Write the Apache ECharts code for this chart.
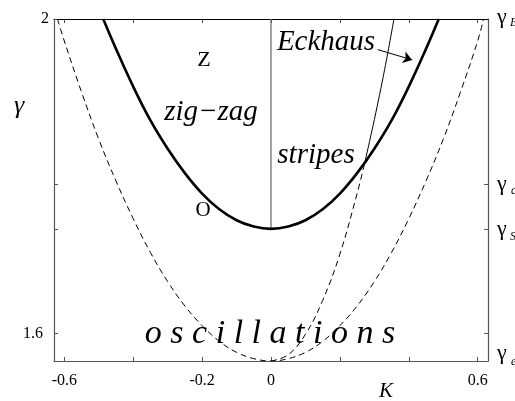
<!DOCTYPE html>
<html>
<head>
<meta charset="utf-8">
<script src="https://cdn.jsdelivr.net/npm/echarts@6/dist/echarts.min.js"></script>
<style>
html, body { margin: 0; padding: 0; background: #fff; }
#chart { width: 515px; height: 401px; }
</style>
</head>
<body>
<div id="chart"></div>
<script>
// Axis ticks and labels
const kTicks = [-0.6, -0.4, -0.2, 0, 0.2, 0.4, 0.6];
const kLabels = [-0.6, -0.2, 0, 0.6];
const gammaLeftTicks = [1.6, 1.733, 1.79, 2];
const gammaLeftLabels = [1.6, 2];
const gammaRightTicks = [1.6, 1.733, 1.79];

// Stripe stability boundary (thick curve)
const stripeK = [-0.487, -0.45, -0.4, -0.35, -0.3, -0.25, -0.2, -0.15, -0.1, -0.05, 0,
                 0.05, 0.1, 0.15, 0.2, 0.25, 0.3, 0.35, 0.4, 0.45, 0.487];
const stripeG = [2.0, 1.962, 1.914, 1.871, 1.835, 1.804, 1.778, 1.758, 1.744, 1.736, 1.733,
                 1.736, 1.744, 1.758, 1.778, 1.804, 1.835, 1.871, 1.914, 1.962, 2.0];

// Onset of oscillations (dashed outer curve)
const oscK = [-0.62, -0.6, -0.55, -0.5, -0.45, -0.4, -0.35, -0.3, -0.25, -0.2, -0.15, -0.1, -0.05, 0,
              0.05, 0.1, 0.15, 0.2, 0.25, 0.3, 0.35, 0.4, 0.45, 0.5, 0.55, 0.6, 0.617];
const oscG = [2.0, 1.972, 1.907, 1.847, 1.794, 1.746, 1.703, 1.666, 1.635, 1.610, 1.590, 1.576, 1.568, 1.565,
              1.568, 1.576, 1.590, 1.610, 1.635, 1.666, 1.703, 1.746, 1.794, 1.847, 1.907, 1.972, 2.0];

// Eckhaus boundary: dashed inside the oscillation region, solid above the stripe boundary
const eckLowK = [0, 0.05, 0.1, 0.15, 0.2, 0.25, 0.271];
const eckLowG = [1.565, 1.573, 1.599, 1.642, 1.701, 1.778, 1.815];
const eckHighK = [0.271, 0.3, 0.33, 0.357];
const eckHighG = [1.815, 1.872, 1.936, 2.0];

// Zig-zag / stripes separator at K = 0
const sepK = [0, 0];
const sepG = [1.733, 2.0];

// Arrow pointing from the "Eckhaus" label to the curve
const arrowFrom = [0.31, 1.961];
const arrowTo = [0.41, 1.948];

const pairs = (xs, ys) => xs.map((x, i) => [x, ys[i]]);

const SERIF = '"Liberation Serif", "Times New Roman", serif';
const axisGrey = '#555';

const chart = echarts.init(document.getElementById('chart'), null, { renderer: 'canvas' });

const lineBase = { type: 'line', showSymbol: false, symbol: 'none', silent: true, animation: false, smooth: 0.4 };

function txt(x, y, text, font, align) {
  return {
    type: 'text', x: x, y: y, silent: true,
    style: { text: text, font: font, fill: '#000', textAlign: align || 'center', textVerticalAlign: 'middle' }
  };
}

const option = {
  animation: false,
  backgroundColor: '#fff',
  grid: { left: 54, right: 27, top: 19, bottom: 40, containLabel: false },
  xAxis: [
    {
      type: 'value', min: -0.63, max: 0.63, position: 'bottom',
      axisLine: { onZero: false, lineStyle: { color: axisGrey, width: 1.2 } },
      axisTick: { inside: true, length: 4, customValues: kTicks, lineStyle: { color: axisGrey } },
      axisLabel: {
        customValues: kLabels, margin: 12, color: '#000', fontFamily: SERIF, fontSize: 16,
        formatter: v => (Math.abs(v) < 1e-9 ? '0' : String(v))
      },
      splitLine: { show: false }
    },
    {
      type: 'value', min: -0.63, max: 0.63, position: 'top',
      axisLine: { show: true, onZero: false, lineStyle: { color: '#000', width: 1.2 } },
      axisTick: { inside: true, length: 4, customValues: kTicks, lineStyle: { color: '#444' } },
      axisLabel: { show: false },
      splitLine: { show: false }
    }
  ],
  yAxis: [
    {
      type: 'value', min: 1.565, max: 2, position: 'left',
      axisLine: { show: true, onZero: false, lineStyle: { color: axisGrey, width: 1.2 } },
      axisTick: { show: true, inside: true, length: 4, customValues: gammaLeftTicks, lineStyle: { color: axisGrey } },
      axisLabel: {
        customValues: gammaLeftLabels, margin: 5, color: '#000', fontFamily: SERIF, fontSize: 16,
        formatter: v => (v === 2 ? '{a|2}' : '{b|' + v + '}'),
        rich: {
          a: { fontFamily: SERIF, fontSize: 16, color: '#000' },
          b: { fontFamily: SERIF, fontSize: 16, color: '#000', padding: [0, 6, 0, 0] }
        }
      },
      splitLine: { show: false }
    },
    {
      type: 'value', min: 1.565, max: 2, position: 'right',
      axisLine: { show: true, onZero: false, lineStyle: { color: axisGrey, width: 1.2 } },
      axisTick: { show: true, inside: true, length: 4, customValues: gammaRightTicks, lineStyle: { color: axisGrey } },
      axisLabel: { show: false },
      splitLine: { show: false }
    }
  ],
  series: [
    Object.assign({}, lineBase, {
      data: pairs(oscK, oscG),
      lineStyle: { color: '#000', width: 1, type: [6, 4] }
    }),
    Object.assign({}, lineBase, {
      data: pairs(eckLowK, eckLowG),
      lineStyle: { color: '#000', width: 1, type: [6, 4] }
    }),
    Object.assign({}, lineBase, {
      data: pairs(eckHighK, eckHighG),
      lineStyle: { color: '#000', width: 1 }
    }),
    Object.assign({}, lineBase, {
      data: pairs(sepK, sepG), smooth: false,
      lineStyle: { color: '#666', width: 1.2 }
    }),
    Object.assign({}, lineBase, {
      data: pairs(stripeK, stripeG),
      lineStyle: { color: '#000', width: 2.6 }
    }),
    {
      type: 'lines', coordinateSystem: 'cartesian2d', silent: true, animation: false,
      symbol: ['none', 'arrow'], symbolSize: 9,
      lineStyle: { color: '#000', width: 1, opacity: 1 },
      data: [{ coords: [arrowFrom, arrowTo] }]
    }
  ],
  graphic: [
    txt(19, 106, 'γ', 'italic 26px ' + SERIF),
    txt(204, 60, 'Z', '22px ' + SERIF),
    txt(211, 112, 'zig−zag', 'italic 29px ' + SERIF),
    txt(326, 42, 'Eckhaus', 'italic 29px ' + SERIF),
    txt(316, 155, 'stripes', 'italic 29px ' + SERIF),
    txt(203, 210, 'O', '21px ' + SERIF),
    txt(270, 334, 'o s c i l l a t i o n s', 'italic 34px ' + SERIF),
    txt(386, 391, 'K', 'italic 21px ' + SERIF),
    // right-hand gamma levels
    txt(497, 17, 'γ', '22px ' + SERIF, 'left'),
    txt(510, 23, 'E', 'italic 12px ' + SERIF, 'left'),
    txt(497, 184, 'γ', '22px ' + SERIF, 'left'),
    txt(511, 191, 'c', 'italic 12px ' + SERIF, 'left'),
    txt(497, 229, 'γ', '22px ' + SERIF, 'left'),
    txt(510, 237, 'S', 'italic 12px ' + SERIF, 'left'),
    txt(497, 353, 'γ', '22px ' + SERIF, 'left'),
    txt(511, 362, 'e', 'italic 12px ' + SERIF, 'left')
  ]
};

chart.setOption(option);
</script>
</body>
</html>
